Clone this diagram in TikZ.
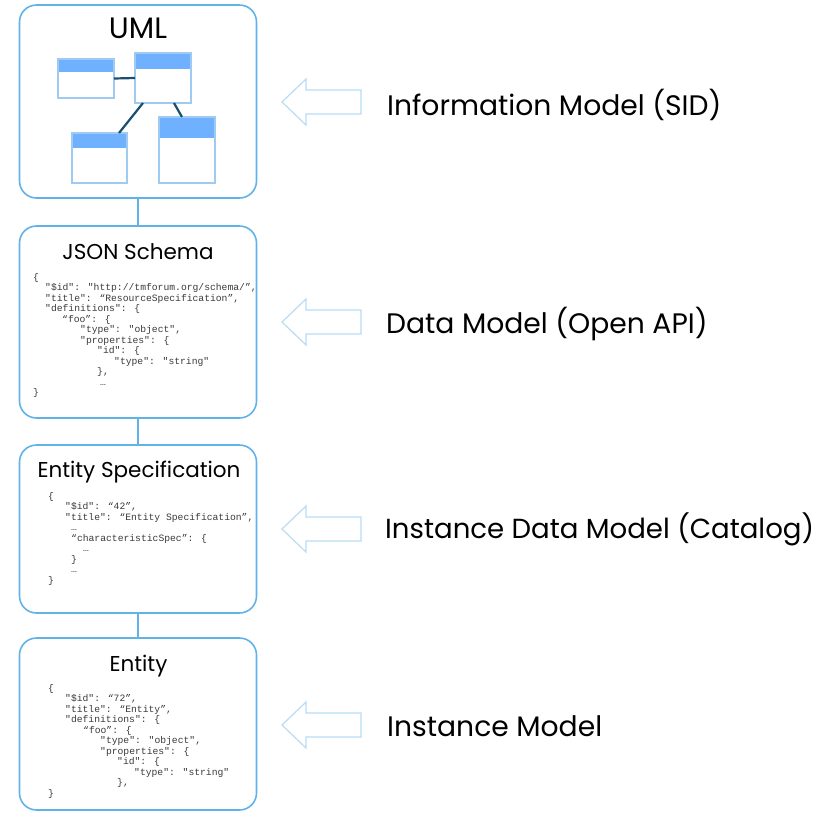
\documentclass[tikz,border=0pt]{standalone}
\usepackage{fontspec}
\setmainfont{Poppins}
\newfontfamily\codefont{Liberation Mono}[Ligatures=NoCommon]
\definecolor{boxblue}{HTML}{62B2EA}
\definecolor{arrowblue}{HTML}{B9DCF5}
\definecolor{clsborder}{HTML}{9FCBF2}
\definecolor{clshead}{HTML}{70B1FF}
\definecolor{clsline}{HTML}{1B4F72}
\definecolor{codegray}{HTML}{3A3A3A}
\newcommand{\ind}[1]{\hspace*{#1pt}}
\tikzset{
  bigbox/.style={draw=boxblue, line width=1.6pt, rounded corners=17pt, minimum width=237pt, outer sep=0pt, inner sep=0pt},
  title/.style={anchor=base, inner sep=0pt, font=\fontsize{21.5}{24}\selectfont},
  label/.style={anchor=base west, inner sep=0pt, font=\fontsize{28.2}{32}\selectfont},
  code/.style={anchor=north west, inner sep=0pt, align=left, text=codegray, font=\codefont\fontsize{9.7}{10.5}\selectfont},
  cls/.style={draw=clsborder, line width=1.2pt, fill=white, inner sep=0pt, outer sep=0pt,
     path picture={\fill[clshead] (path picture bounding box.north west) rectangle ([yshift=-#1pt]path picture bounding box.north east);}},
  clsconn/.style={draw=clsline, line width=2.2pt},
  conn/.style={draw=boxblue, line width=1.4pt},
  hollowarrow/.style={draw=arrowblue, line width=1.2pt, line join=miter}
}
\begin{document}
\begin{tikzpicture}[x=1pt, y=-1pt]
\useasboundingbox (0,0) rectangle (819,812);
% big boxes
\node[bigbox, minimum height=193pt] (b1) at (138,101.5) {};
\node[bigbox, minimum height=192pt] (b2) at (138,322) {};
\node[bigbox, minimum height=168pt] (b3) at (138,529) {};
\node[bigbox, minimum height=172pt] (b4) at (138,724) {};
\draw[conn] (b1.south) -- (b2.north);
\draw[conn] (b2.south) -- (b3.north);
\draw[conn] (b3.south) -- (b4.north);
% titles
\node[title, font=\fontsize{29.5}{32}\selectfont] (t1) at (138,38) {UML};
\node[title] (t2) at (138,259) {JSON Schema};
\node[title] (t3) at (139,477) {Entity Specification};
\node[title] (t4) at (138.5,671) {Entity};
% UML classes
\node[cls=13, minimum width=56pt, minimum height=39pt] (cA) at (86,78.5) {};
\node[cls=16, minimum width=56pt, minimum height=50pt] (cB) at (163,78) {};
\node[cls=15, minimum width=55pt, minimum height=50pt] (cC) at (99.5,158) {};
\node[cls=21, minimum width=56pt, minimum height=66pt] (cD) at (187,150) {};
\draw[clsconn] (cA.east) -- (cB.west);
\draw[clsconn] ([xshift=8pt]cB.south west) -- ([xshift=-8pt]cC.north east);
\draw[clsconn] ([xshift=-17pt]cB.south east) -- ([xshift=23pt]cD.north west);
% code blocks
\node[code] (c2) at (33,273) {\rule{0pt}{7pt}\{\\
\ind{12}"\$id": "http://tmforum.org/schema/”,\\
\ind{12}"title": “ResourceSpecification”,\\
\ind{12}"definitions": \{\\
\ind{29}“foo”: \{\\
\ind{47}"type": "object",\\
\ind{47}"properties": \{\\
\ind{64}"id": \{\\
\ind{81}"type": "string"\\
\ind{64}\},\\
\ind{67}…\\
\}};
\node[code] (c3) at (48,492) {\rule{0pt}{7pt}\{\\
\ind{17}"\$id": “42”,\\
\ind{17}"title": “Entity Specification”,\\
\ind{23}…\\
\ind{23}“characteristicSpec”: \{\\
\ind{35}…\\
\ind{23}\}\\
\ind{23}…\\
\}};
\node[code] (c4) at (48,684) {\rule{0pt}{7pt}\{\\
\ind{17}"\$id": “72”,\\
\ind{17}"title": “Entity”,\\
\ind{17}"definitions": \{\\
\ind{35}“foo”: \{\\
\ind{52}"type": "object",\\
\ind{52}"properties": \{\\
\ind{69}"id": \{\\
\ind{86}"type": "string"\\
\ind{69}\},\\
\}};
% hollow arrows
\foreach \yy/\nm in {102/a1, 322/a2, 529/a3, 725/a4}{
  \draw[hollowarrow] (282,\yy) -- (306,\yy-23) -- (306,\yy-12) -- (361,\yy-12) -- (361,\yy+12) -- (306,\yy+12) -- (306,\yy+23) -- cycle;
}
% labels
\node[label] (l1) at (387,115) {Information Model (SID)};
\node[label] (l2) at (386,333) {Data Model (Open API)};
\node[label, font=\fontsize{27.6}{32}\selectfont] (l3) at (385,538) {Instance Data Model (Catalog)};
\node[label] (l4) at (387,736) {Instance Model};
\end{tikzpicture}
\end{document}
